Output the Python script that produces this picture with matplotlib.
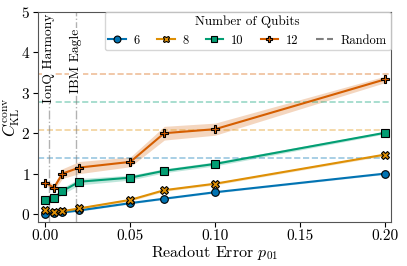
import numpy as np
import matplotlib
matplotlib.use("Agg")
import matplotlib.pyplot as plt

# data
p01 = [0.0, 0.005, 0.01, 0.02, 0.05, 0.07, 0.10, 0.20]
qubits = [6, 8, 10, 12]
kl_6 = [0.01, 0.02, 0.04, 0.09, 0.27, 0.38, 0.54, 1.00]
kl_8 = [0.10, 0.06, 0.07, 0.14, 0.35, 0.59, 0.75, 1.47]
kl_10 = [0.34, 0.40, 0.57, 0.80, 0.90, 1.07, 1.24, 2.01]
kl_12 = [0.78, 0.65, 1.00, 1.15, 1.29, 2.00, 2.10, 3.33]
err_6 = [0.02, 0.02, 0.02, 0.02, 0.02, 0.02, 0.02, 0.02]
err_8 = [0.03, 0.02, 0.02, 0.03, 0.03, 0.03, 0.03, 0.03]
err_10 = [0.06, 0.06, 0.08, 0.08, 0.06, 0.05, 0.05, 0.03]
err_12 = [0.07, 0.08, 0.12, 0.15, 0.12, 0.17, 0.15, 0.08]
random_kl = [1.386, 2.079, 2.773, 3.466]
devices = ["IonQ Harmony", "IBM Eagle"]
device_p01 = [0.0018, 0.018]

plt.rcParams['font.family'] = 'serif'
plt.rcParams['font.serif'] = ['cmr10', 'DejaVu Serif']
plt.rcParams['mathtext.fontset'] = 'cm'
plt.rcParams['axes.formatter.use_mathtext'] = True
plt.rcParams['font.size'] = 11

colors = ['#0173b2', '#de8f05', '#029e73', '#d55e00']
markers = ['o', 'X', 's', 'P']
series = [kl_6, kl_8, kl_10, kl_12]
errs = [err_6, err_8, err_10, err_12]

fig, ax = plt.subplots(figsize=(4.07, 2.66), dpi=100)

for q, y, e, c, m in zip(qubits, series, errs, colors, markers):
    y = np.array(y)
    e = np.array(e)
    ax.fill_between(p01, y - e, y + e, color=c, alpha=0.25, lw=0)
    ax.plot(p01, y, color=c, marker=m, markersize=5.5, markeredgecolor='black',
            markeredgewidth=0.8, lw=1.5, label=str(q), zorder=4)

for r, c in zip(random_kl, colors):
    ax.axhline(r, color=c, ls='--', lw=1.2, alpha=0.4, zorder=1)

for name, x in zip(devices, device_p01):
    ax.axvline(x, color='gray', ls='-.', lw=1, alpha=0.6, zorder=1)
    ax.text(x, 4.97 if x < 0.01 else 4.58, name, rotation=90, ha='center',
            va='top', fontsize=9.8,
            bbox=dict(facecolor='white', edgecolor='none', pad=0.5), zorder=3)

ax.plot([], [], color='gray', ls='--', label='Random')

ax.set_xlim(-0.0045, 0.2035)
ax.set_ylim(-0.2, 5)
ax.set_xticks([0.0, 0.05, 0.10, 0.15, 0.20])
ax.set_xticklabels(['0.00', '0.05', '0.10', '0.15', '0.20'])
ax.set_yticks([0, 1, 2, 3, 4, 5])
ax.tick_params(axis='x', pad=1.5)
ax.tick_params(axis='y', pad=2)
ax.set_xlabel(r'Readout Error $p_{01}$', fontsize=11.5, labelpad=0)
ax.set_ylabel(r'$C^{\rm conv}_{\rm KL}$', fontsize=12)
ax.yaxis.set_label_coords(-0.046, 0.5)
for s in ax.spines.values():
    s.set_color('#555555')

ax.legend(title='Number of Qubits', ncol=5, loc='upper right',
          bbox_to_anchor=(1, 1), borderaxespad=0, fontsize=9,
          title_fontsize=9.5, handlelength=1.4, columnspacing=1.4,
          handletextpad=0.6, markerscale=0.9, borderpad=0.3)

fig.subplots_adjust(left=0.093, right=0.96, top=0.955, bottom=0.165)
fig.savefig("out.png", dpi=100)
